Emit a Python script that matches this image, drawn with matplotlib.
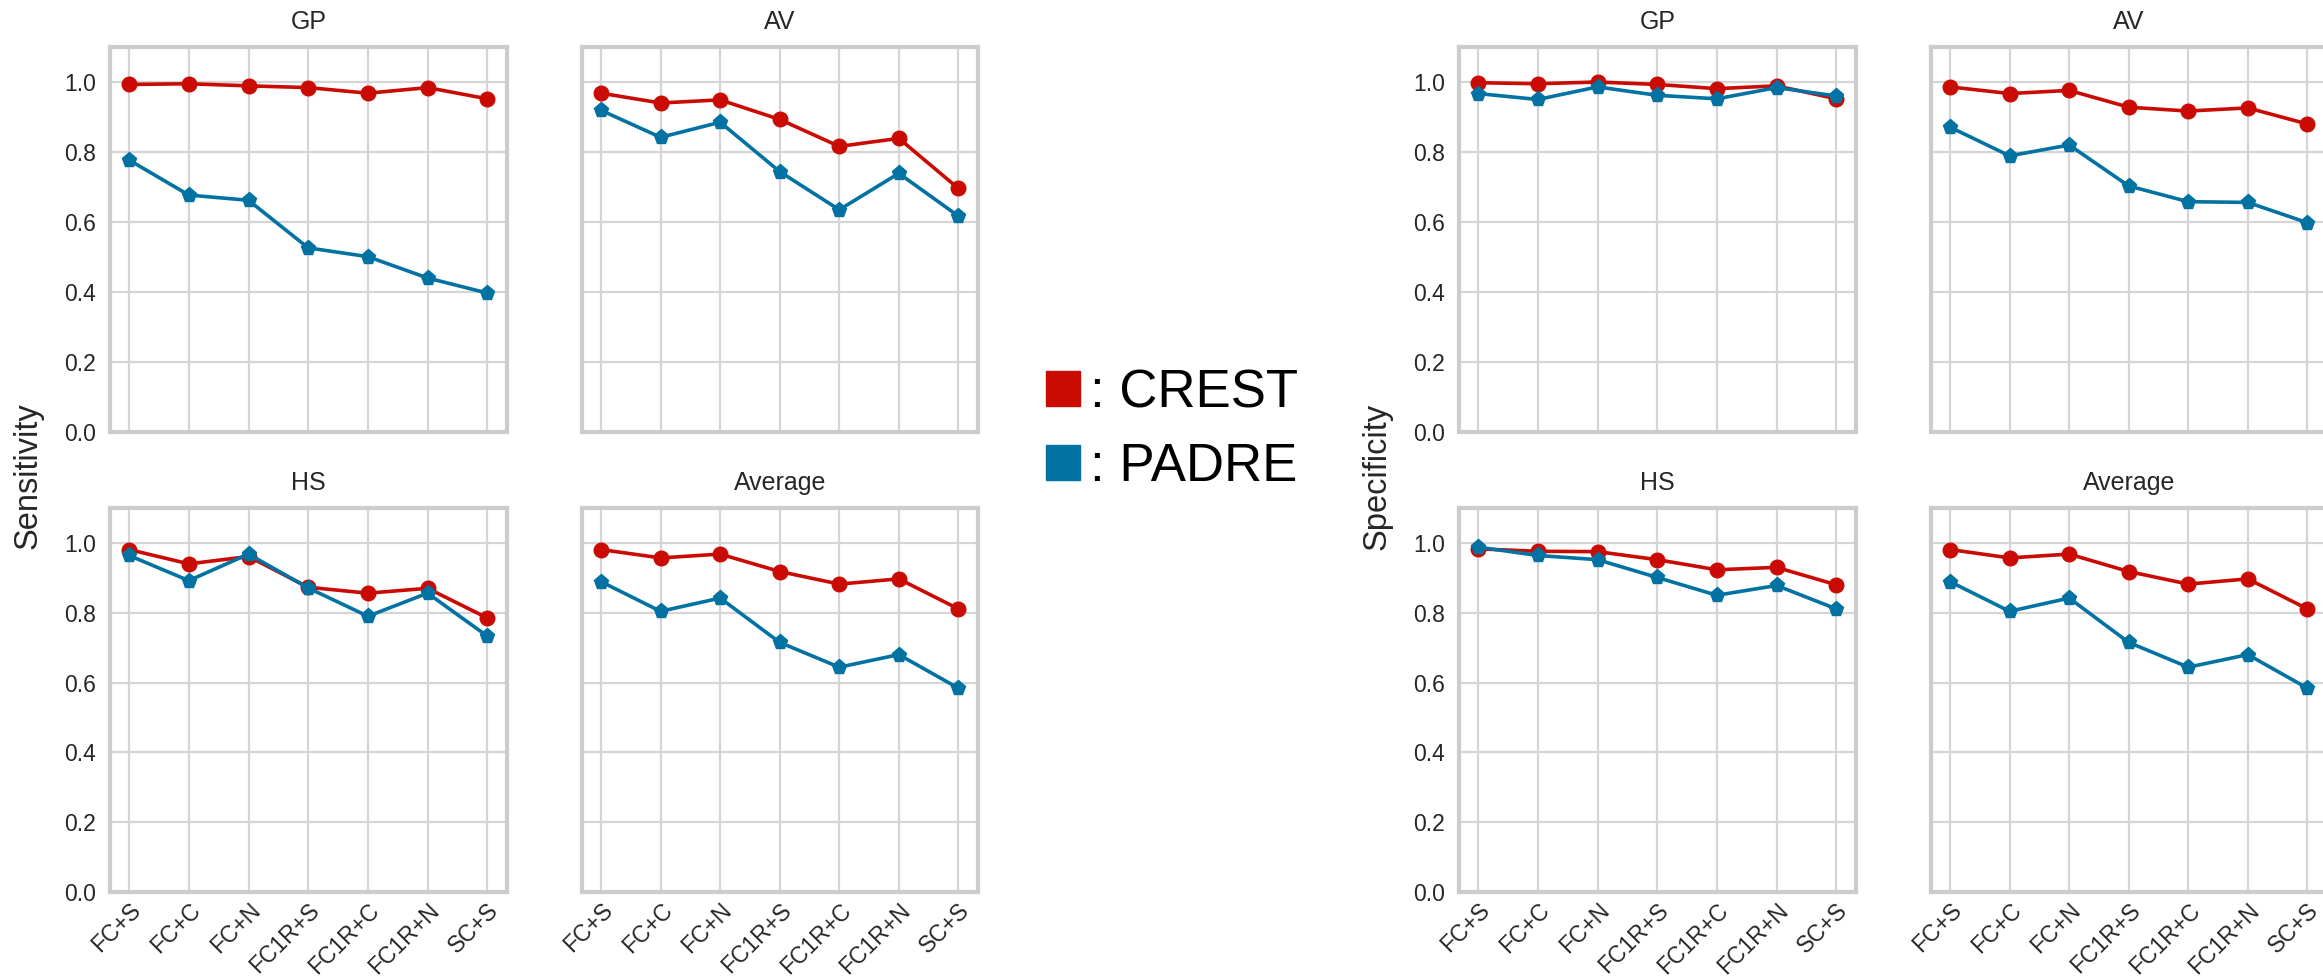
import matplotlib
matplotlib.use("Agg")
import matplotlib.pyplot as plt
from matplotlib.patches import Patch

plt.rcParams['font.family'] = ['Liberation Sans', 'DejaVu Sans']

methods = ["FC+S", "FC+C", "FC+N", "FC1R+S", "FC1R+C", "FC1R+N", "SC+S"]
panels = ["GP", "AV", "HS", "Average"]

# sensitivity
sens_crest = {
    "GP": [0.993, 0.995, 0.989, 0.984, 0.968, 0.984, 0.952],
    "AV": [0.968, 0.940, 0.949, 0.893, 0.816, 0.839, 0.696],
    "HS": [0.981, 0.940, 0.961, 0.873, 0.856, 0.870, 0.785],
    "Average": [0.981, 0.957, 0.968, 0.918, 0.882, 0.897, 0.811],
}
sens_padre = {
    "GP": [0.777, 0.677, 0.662, 0.526, 0.501, 0.440, 0.397],
    "AV": [0.919, 0.842, 0.885, 0.744, 0.635, 0.739, 0.617],
    "HS": [0.964, 0.892, 0.968, 0.871, 0.790, 0.856, 0.733],
    "Average": [0.889, 0.804, 0.842, 0.715, 0.644, 0.680, 0.584],
}

# specificity
spec_crest = {
    "GP": [0.998, 0.995, 1.000, 0.993, 0.981, 0.989, 0.952],
    "AV": [0.986, 0.967, 0.976, 0.928, 0.917, 0.926, 0.880],
    "HS": [0.983, 0.976, 0.975, 0.952, 0.923, 0.930, 0.880],
    "Average": [0.981, 0.957, 0.968, 0.918, 0.882, 0.897, 0.811],
}
spec_padre = {
    "GP": [0.967, 0.950, 0.986, 0.962, 0.952, 0.984, 0.960],
    "AV": [0.871, 0.789, 0.820, 0.703, 0.658, 0.656, 0.598],
    "HS": [0.988, 0.964, 0.952, 0.901, 0.850, 0.878, 0.811],
    "Average": [0.889, 0.804, 0.842, 0.715, 0.644, 0.680, 0.584],
}

RED = "#ca0b03"
BLUE = "#0272a2"
W, H = 2323, 980

fig = plt.figure(figsize=(W / 100, H / 100), dpi=100)


def px_axes(x0, y0, x1, y1):
    return fig.add_axes([x0 / W, 1 - y1 / H, (x1 - x0) / W, (y1 - y0) / H])


def draw_group(x_off, crest, padre, ylabel):
    cols = [(110 + x_off, 507 + x_off), (582 + x_off, 978 + x_off)]
    rows = [(47, 432), (508, 892)]
    for i, name in enumerate(panels):
        r, c = divmod(i, 2)
        ax = px_axes(cols[c][0], rows[r][0], cols[c][1], rows[r][1])
        x = range(len(methods))
        ax.plot(x, crest[name], color=RED, marker="o", lw=2.6, ms=10.5)
        ax.plot(x, padre[name], color=BLUE, marker="p", lw=2.6, ms=11)
        ax.set_ylim(0, 1.1)
        ax.set_xlim(-0.32, 6.33)
        ax.set_yticks([0, 0.2, 0.4, 0.6, 0.8, 1.0])
        ax.set_xticks(list(x))
        ax.grid(True, color="#d5d5d5", lw=1.6)
        ax.set_axisbelow(True)
        for s in ax.spines.values():
            s.set_color("#cccccc")
            s.set_linewidth(3)
        ax.tick_params(length=0, labelsize=16.5, labelcolor="#262626", pad=10)
        ax.tick_params(axis="x", pad=5)
        ax.set_title(name, fontsize=18, color="#262626", pad=13)
        if r == 1:
            ax.set_xticklabels(methods, rotation=45, ha="right",
                               rotation_mode="anchor")
        else:
            ax.set_xticklabels([])
        if c == 1:
            ax.set_yticklabels([])
        else:
            ax.set_yticklabels(["0.0", "0.2", "0.4", "0.6", "0.8", "1.0"])
    fig.text((28 + x_off) / W, 1 - 476 / H, ylabel, rotation=90,
             ha="center", va="center", fontsize=23.5, color="#262626")


draw_group(0, sens_crest, sens_padre, "Sensitivity")
draw_group(1349, spec_crest, spec_padre, "Specificity")

handles = [Patch(color=RED), Patch(color=BLUE)]
fig.legend(handles, [": CREST", ": PADRE"], loc="center",
           bbox_to_anchor=(1172 / W, 1 - 430 / H), frameon=False,
           fontsize=38, handlelength=0.65, handleheight=0.65,
           handletextpad=0.2, labelspacing=0.45)

fig.savefig("out.png", dpi=100, facecolor="white")
